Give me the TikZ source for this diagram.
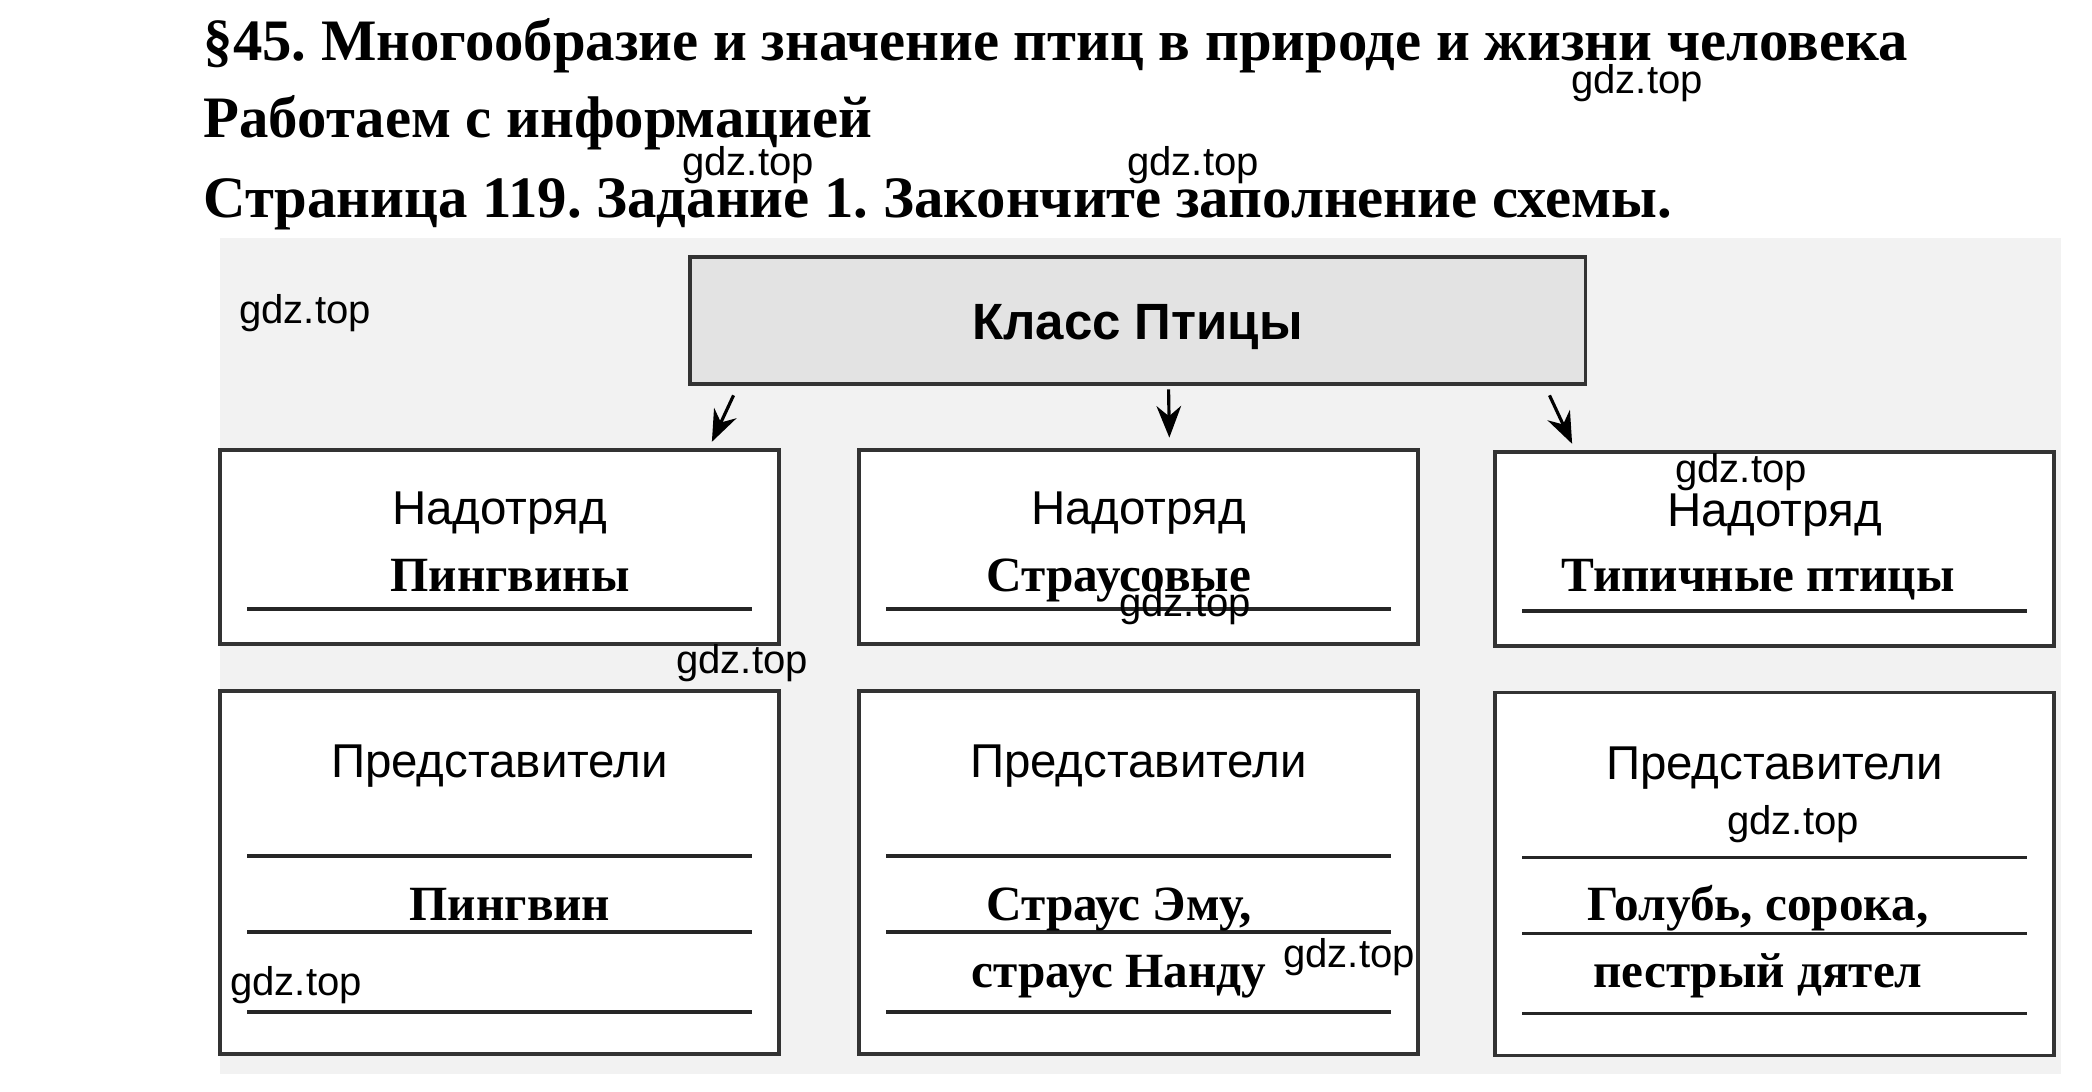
\documentclass[tikz,border=0pt]{standalone}
\usepackage{fontspec}
\setmainfont{Liberation Serif}
\setsansfont{Liberation Sans}
\usetikzlibrary{arrows.meta}
\frenchspacing

\tikzset{
  heading/.style={anchor=base west, inner sep=0pt, font=\bfseries\fontsize{16.7}{19}\selectfont},
  box/.style={draw=black!80, line width=1pt, fill=white, inner sep=0pt},
  classbox/.style={box, fill=gray!22, minimum width=8.95cm, minimum height=1.27cm},
  groupbox/.style={box, minimum width=5.59cm, minimum height=1.94cm},
  membox/.style={box, minimum width=5.59cm, minimum height=3.63cm},
  printed/.style={anchor=base, font=\sffamily\fontsize{13.5}{15}\selectfont},
  answer/.style={anchor=base, font=\bfseries\fontsize{14}{16}\selectfont},
  writeline/.style={black!85, line width=1pt},
  arr/.style={-{Stealth[length=9pt,width=7pt]}, line width=0.9pt},
  wmark/.style={font=\sffamily\fontsize{11.4}{12}\selectfont}
}

\begin{document}
\begin{tikzpicture}[x=0.01cm, y=-0.01cm]
    \useasboundingbox (0,0) rectangle (2092,1091);

    % Title lines
    \node[heading] (t1) at (203,61) {§45. Многообразие и значение птиц в природе и жизни человека};
    \node[heading] (t2) at (203,137) {Работаем с информацией};
    \node[heading] (t3) at (203,218) {Страница 119. Задание 1. Закончите заполнение схемы.};

    % Scanned page
    \fill[gray!10] (220,238) rectangle (2061,1074);

    % Boxes
    \node[classbox] (cls) at (1137.5,320.5) {};
    \node[groupbox] (gl) at (499.5,547) {};
    \node[groupbox] (gm) at (1138.5,547) {};
    \node[groupbox] (gr) at (1774.5,549) {};
    \node[membox] (ml) at (499.5,872.5) {};
    \node[membox] (mm) at (1138.5,872.5) {};
    \node[membox] (mr) at (1774.5,874) {};

    % Arrows
    \draw[arr, shorten <=3pt, shorten >=2pt] ([shift={(50,0)}]cls.south west) -- ([shift={(-72,0)}]gl.north east);
    \draw[arr, shorten <=1pt, shorten >=3pt] ([shift={(31,0)}]cls.south) -- ([shift={(31,0)}]gm.north);
    \draw[arr, shorten <=3pt, shorten >=2pt] ([shift={(-42,0)}]cls.south east) -- ([shift={(82,0)}]gr.north west);

    % Class
    \node[anchor=base, font=\sffamily\bfseries\fontsize{14.5}{16}\selectfont] (clst) at (1137.5,339) {Класс Птицы};

    % Superorders
    \foreach \b in {gl,gm,gr} {
      \node[printed] at ([shift={(0,-23)}]\b.center) {Надотряд};
      \draw[writeline] ([shift={(29,-37)}]\b.south west) -- ([shift={(-29,-37)}]\b.south east);
    }
    \node[answer] (al) at (510,591) {Пингвины};
    \node[answer] (am) at (1119,591) {Страусовые};
    \node[answer] (ar) at (1758,591) {Типичные птицы};

    % Representatives
    \foreach \b in {ml,mm,mr} {
      \node[printed] at ([shift={(0,-95)}]\b.center) {Представители};
      \foreach \d in {167,243,323}
        \draw[writeline] ([shift={(29,\d)}]\b.north west) -- ([shift={(-29,\d)}]\b.north east);
    }
    \node[answer] (rl) at (510,920) {Пингвин};
    \node[answer] (rm1) at (1119,920) {Страус Эму,};
    \node[answer] (rm2) at (1119,987) {страус Нанду};
    \node[answer] (rr1) at (1758,920) {Голубь, сорока,};
    \node[answer] (rr2) at (1758,987) {пестрый дятел};

    % Watermarks
    \node[wmark] (w1) at (1637,83) {gdz.top};
    \node[wmark] (w2) at (748,165) {gdz.top};
    \node[wmark] (w3) at (1193,165) {gdz.top};
    \node[wmark] (w4) at (305,313) {gdz.top};
    \node[wmark] (w5) at (1741,472) {gdz.top};
    \node[wmark] (w6) at (1185,606) {gdz.top};
    \node[wmark] (w7) at (742,663) {gdz.top};
    \node[wmark] (w8) at (1793,824) {gdz.top};
    \node[wmark] (w9) at (1349,957) {gdz.top};
    \node[wmark] (w10) at (296,985) {gdz.top};
\end{tikzpicture}
\end{document}
